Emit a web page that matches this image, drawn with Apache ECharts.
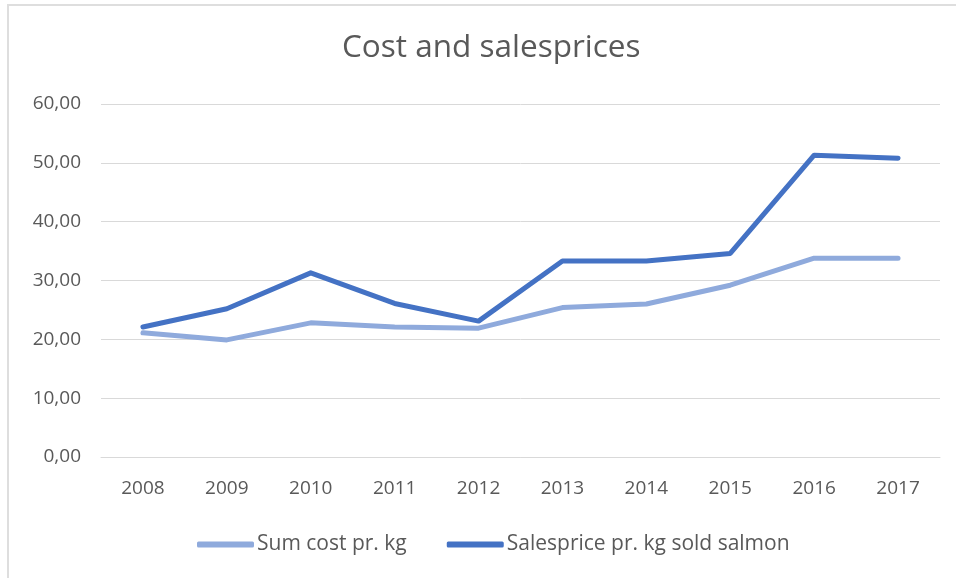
<!DOCTYPE html>
<html>
<head>
<meta charset="utf-8">
<script src="https://cdn.jsdelivr.net/npm/echarts@6/dist/echarts.min.js"></script>
<style>
  html, body { margin: 0; padding: 0; background: #fff; overflow: hidden; }
  .frame {
    position: absolute; left: 7px; top: 4px;
    width: 980px; height: 600px;
    border: 2px solid #dedede;
    box-sizing: border-box;
  }
  #chart { position: absolute; left: 0; top: 0; width: 956px; height: 578px; }
</style>
</head>
<body>
<div class="frame"></div>
<div id="chart"></div>
<script>
// data
const years = ['2008', '2009', '2010', '2011', '2012', '2013', '2014', '2015', '2016', '2017']
const sumCost = [21.1, 19.9, 22.8, 22.1, 21.9, 25.4, 26.0, 29.2, 33.8, 33.8]
const salesPrice = [22.1, 25.2, 31.3, 26.1, 23.1, 33.3, 33.3, 34.6, 51.3, 50.8]
const seriesNames = ['Sum cost pr. kg', 'Salesprice pr. kg sold salmon']

const font = '"Open Sans", sans-serif'
const textColor = '#595959'

const chart = echarts.init(document.getElementById('chart'))
chart.setOption({
  animation: false,
  textStyle: { fontFamily: font },
  title: {
    text: 'Cost and salesprices',
    left: 337,
    top: 27,
    textStyle: { fontFamily: font, fontSize: 31.5, fontWeight: 'normal', color: textColor }
  },
  grid: {
    left: 101,
    right: 16,
    top: 104,
    bottom: 121
  },
  legend: {
    data: seriesNames,
    top: 529,
    left: 192,
    itemWidth: 57,
    itemHeight: 6,
    itemGap: 40,
    icon: 'roundRect',
    textStyle: { fontFamily: font, fontSize: 21, color: textColor, padding: [0, 0, 0, -2] }
  },
  xAxis: {
    type: 'category',
    data: years,
    boundaryGap: true,
    axisTick: { show: false },
    axisLine: { lineStyle: { color: '#d9d9d9', width: 1 } },
    axisLabel: { color: textColor, fontSize: 19, margin: 22 }
  },
  yAxis: {
    type: 'value',
    min: 0,
    max: 60,
    interval: 10,
    axisLine: { show: false },
    axisTick: { show: false },
    splitLine: { lineStyle: { color: '#d9d9d9', width: 1 } },
    axisLabel: {
      color: textColor,
      fontSize: 19,
      margin: 20,
      formatter: v => v.toFixed(2).replace('.', ',')
    }
  },
  series: [
    {
      name: seriesNames[0],
      type: 'line',
      data: sumCost,
      symbol: 'none',
      lineStyle: { color: '#8faadc', width: 5, cap: 'round', join: 'round' },
      itemStyle: { color: '#8faadc' }
    },
    {
      name: seriesNames[1],
      type: 'line',
      data: salesPrice,
      symbol: 'none',
      lineStyle: { color: '#4472c4', width: 5, cap: 'round', join: 'round' },
      itemStyle: { color: '#4472c4' }
    }
  ]
})
</script>
</body>
</html>
